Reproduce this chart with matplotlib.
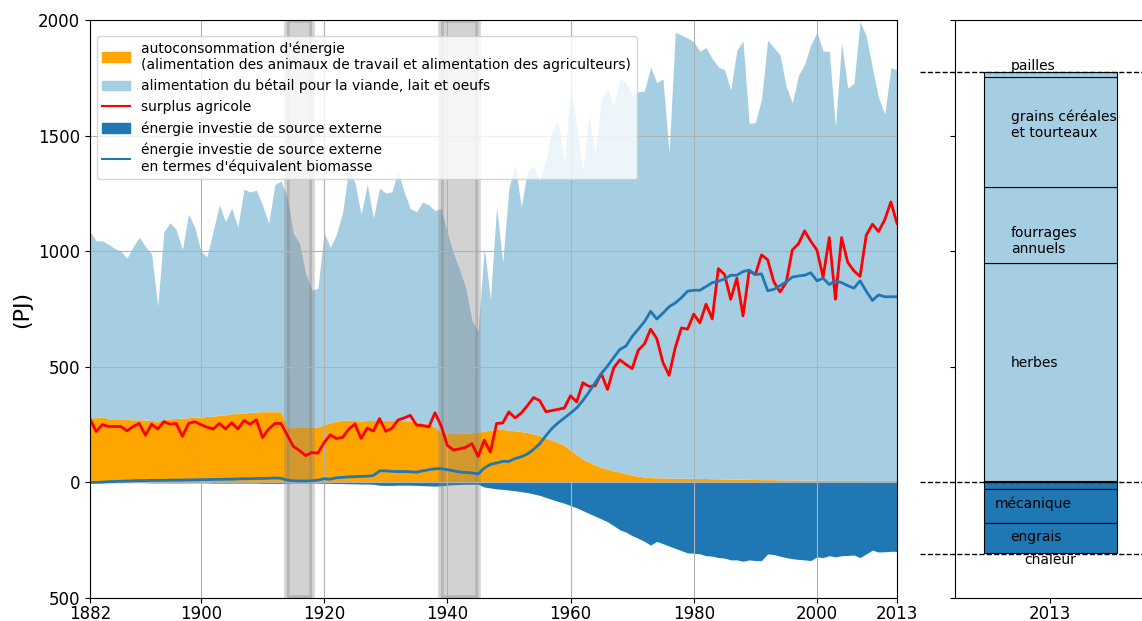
import numpy as np
import matplotlib
matplotlib.use("Agg")
import matplotlib.pyplot as plt
from matplotlib.patches import Patch
from matplotlib.lines import Line2D
import matplotlib.ticker as ticker

# Séries annuelles 1882-2013 (PJ)
annees = np.arange(1882, 2014)

total_biomasse = [
    1085, 1045, 1045, 1030, 1012, 1000, 970, 1020, 1060, 1020,
    990, 763, 1085, 1123, 1093, 1008, 1160, 1104, 1000, 976,
    1088, 1200, 1128, 1187, 1104, 1268, 1256, 1264, 1200, 1120,
    1288, 1304, 1236, 1078, 1035, 905, 832, 840, 1080, 1016,
    1072, 1168, 1353, 1297, 1160, 1288, 1144, 1272, 1252, 1256,
    1345, 1256, 1184, 1171, 1213, 1200, 1176, 1184, 1080, 990,
    920, 840, 700, 655, 1016, 792, 1192, 952, 1272, 1377,
    1192, 1345, 1369, 1304, 1393, 1521, 1561, 1385, 1705, 1545,
    1345, 1593, 1417, 1657, 1705, 1625, 1745, 1729, 1673, 1689,
    1694, 1796, 1729, 1745, 1425, 1946, 1935, 1922, 1906, 1865,
    1881, 1833, 1797, 1785, 1697, 1870, 1909, 1553, 1556, 1657,
    1913, 1881, 1849, 1713, 1641, 1761, 1809, 1893, 1946, 1865,
    1865, 1537, 1902, 1705, 1726, 1994, 1930, 1793, 1665, 1593,
    1793, 1785,
]

autoconsommation = [
    279, 280, 284, 275, 272, 272, 272, 271, 271, 270,
    268, 265, 272, 275, 277, 278, 280, 282, 283, 285,
    287, 290, 292, 298, 297, 300, 303, 305, 306, 306,
    306, 306, 237, 237, 238, 238, 238, 240, 250, 258,
    265, 268, 270, 268, 266, 268, 268, 268, 268, 268,
    268, 267, 266, 262, 258, 252, 240, 215, 212, 211,
    211, 212, 215, 218, 222, 226, 229, 229, 226, 223,
    220, 216, 210, 203, 192, 182, 172, 160, 140, 120,
    100, 88, 75, 65, 58, 50, 45, 38, 32, 27,
    23, 21, 20, 20, 19, 19, 19, 18, 18, 17,
    17, 16, 16, 15, 15, 14, 14, 13, 13, 12,
    12, 12, 11, 11, 11, 10, 10, 10, 10, 9,
    9, 9, 9, 9, 9, 9, 8, 8, 8, 8,
    8, 8,
]

surplus = [
    274, 220, 250, 242, 242, 242, 223, 242, 255, 204,
    252, 231, 263, 252, 255, 199, 255, 263, 250, 239,
    231, 255, 231, 258, 231, 268, 252, 271, 194, 231,
    255, 255, 205, 156, 138, 116, 129, 127, 172, 206,
    190, 195, 230, 253, 190, 235, 222, 276, 221, 234,
    270, 279, 290, 248, 246, 240, 301, 245, 160, 140,
    145, 152, 168, 112, 183, 131, 255, 257, 305, 279,
    300, 332, 367, 354, 306, 311, 316, 322, 375, 348,
    431, 415, 418, 471, 402, 495, 530, 510, 492, 572,
    599, 663, 622, 519, 463, 583, 668, 663, 728, 690,
    771, 707, 925, 899, 792, 883, 720, 915, 899, 984,
    963, 867, 824, 864, 1005, 1032, 1088, 1043, 1005, 888,
    1059, 792, 1059, 952, 915, 891, 1069, 1117, 1085, 1136,
    1213, 1120,
]

externe = [
    0, 0, -1, -1, -1, -1, -1, -1, -1, -1,
    -2, -2, -2, -2, -2, -2, -2, -2, -2, -2,
    -3, -3, -3, -3, -3, -3, -3, -3, -4, -4,
    -4, -4, -3, -2, -2, -2, -2, -3, -4, -4,
    -5, -5, -6, -6, -7, -7, -8, -12, -13, -13,
    -12, -12, -12, -13, -14, -15, -16, -14, -12, -10,
    -9, -8, -8, -8, -20, -24, -28, -30, -33, -36,
    -40, -44, -50, -56, -65, -74, -82, -90, -100, -110,
    -122, -134, -146, -158, -170, -187, -205, -215, -230, -242,
    -255, -271, -255, -265, -275, -285, -295, -305, -306, -309,
    -317, -319, -325, -327, -335, -335, -341, -335, -338, -338,
    -309, -312, -319, -325, -330, -333, -335, -338, -322, -325,
    -317, -322, -317, -316, -314, -325, -309, -293, -301, -300,
    -298, -298,
]

externe_biomasse = [
    0, 0, 1, 3, 4, 5, 6, 7, 8, 8,
    9, 9, 9, 10, 10, 10, 11, 11, 12, 12,
    13, 13, 14, 14, 15, 16, 16, 17, 17, 18,
    19, 18, 10, 7, 6, 6, 7, 10, 16, 14,
    20, 22, 24, 25, 26, 27, 30, 50, 50, 48,
    47, 47, 46, 44, 50, 55, 59, 60, 55, 50,
    45, 43, 41, 37, 62, 78, 84, 91, 91, 103,
    111, 123, 143, 167, 202, 234, 258, 279, 300, 322,
    354, 391, 431, 471, 503, 540, 575, 590, 631, 663,
    695, 740, 707, 732, 760, 776, 799, 827, 831, 831,
    847, 864, 870, 880, 896, 896, 912, 918, 899, 902,
    829, 835, 851, 867, 888, 893, 896, 907, 872, 883,
    856, 872, 864, 851, 840, 872, 827, 787, 811, 803,
    803, 803,
]

# Guerres mondiales
guerres = [(1914, 1918), (1939, 1945)]

# Décomposition 2013 (barre de droite)
postes_pos = ["autoconsommation", "herbes", "fourrages\nannuels",
              "grains céréales\net tourteaux", "pailles"]
valeurs_pos = [8, 940, 328, 479, 19]
postes_neg = ["chaleur", "mécanique", "engrais"]
valeurs_neg = [-28, -146, -131]
niveaux_tirets = [1774, 0, -311]

c_orange = "#ffa500"
c_clair = "#a6cee3"
c_fonce = "#1f77b4"

fig = plt.figure(figsize=(11.42, 6.21), dpi=100)
ax = fig.add_axes([0.0788, 0.037, 0.7067, 0.9308])
ax2 = fig.add_axes([0.8363, 0.037, 0.1664, 0.9308])

annees = np.array(annees)
auto = np.array(autoconsommation)
ax.fill_between(annees, 0, auto, color=c_orange, lw=0)
ax.fill_between(annees, auto, total_biomasse, color=c_clair, lw=0)
ax.fill_between(annees, 0, externe, color=c_fonce, lw=0)
ax.plot(annees, surplus, color="red", lw=2)
ax.plot(annees, externe_biomasse, color=c_fonce, lw=2)

for debut, fin in guerres:
    ax.axvspan(debut, fin, color="grey", alpha=0.35, lw=4)

ax.set_xlim(1882, 2013)
ax.set_ylim(-500, 2000)
ax.set_xticks([1882, 1900, 1920, 1940, 1960, 1980, 2000, 2013])
ax.set_yticks([-500, 0, 500, 1000, 1500, 2000])
ax.yaxis.set_major_formatter(ticker.FuncFormatter(lambda v, p: f"{abs(v):.0f}"))
ax.tick_params(labelsize=12)
ax.tick_params(axis="x", pad=1.5)
ax.grid(True)
ax.set_ylabel("(PJ)", fontsize=16)

handles = [
    Patch(color=c_orange),
    Patch(color=c_clair),
    Line2D([], [], color="red"),
    Patch(color=c_fonce),
    Line2D([], [], color=c_fonce),
]
labels = [
    "autoconsommation d'énergie\n(alimentation des animaux de travail et alimentation des agriculteurs)",
    "alimentation du bétail pour la viande, lait et oeufs",
    "surplus agricole",
    "énergie investie de source externe",
    "énergie investie de source externe\nen termes d'équivalent biomasse",
]
ax.legend(handles, labels, loc="upper left", bbox_to_anchor=(0.0, 0.985),
          fontsize=10)

# Barre empilée 2013
couleurs_pos = [c_orange, c_clair, c_clair, c_clair, c_clair]
bas = 0
for val, col in zip(valeurs_pos, couleurs_pos):
    ax2.bar(0, val, 0.7, bottom=bas, color=col, edgecolor="black", lw=0.8)
    bas += val
bas = 0
for val in valeurs_neg:
    ax2.bar(0, val, 0.7, bottom=bas, color=c_fonce, edgecolor="black", lw=0.8)
    bas += val

for niveau in niveaux_tirets:
    ax2.plot([-0.684, 0.5], [niveau, niveau], "k--", lw=1, clip_on=False)

etiquettes = [
    ("pailles", -0.207, 1801),
    ("grains céréales\net tourteaux", -0.207, 1546),
    ("fourrages\nannuels", -0.207, 1044),
    ("herbes", -0.207, 516),
    ("mécanique", -0.289, -93),
    ("engrais", -0.207, -236),
    ("chaleur", -0.137, -336),
]
for txt, x, y in etiquettes:
    ax2.text(x, y, txt, fontsize=10, va="center", ha="left")

ax2.set_xlim(-0.5, 0.5)
ax2.set_ylim(-500, 2000)
ax2.set_xticks([0])
ax2.set_xticklabels(["2013"])
ax2.set_yticks([-500, 0, 500, 1000, 1500, 2000])
ax2.set_yticklabels([])
ax2.tick_params(labelsize=12)
ax2.tick_params(axis="x", pad=1.5)
ax2.spines["right"].set_visible(False)

fig.savefig("out.png", dpi=100)
